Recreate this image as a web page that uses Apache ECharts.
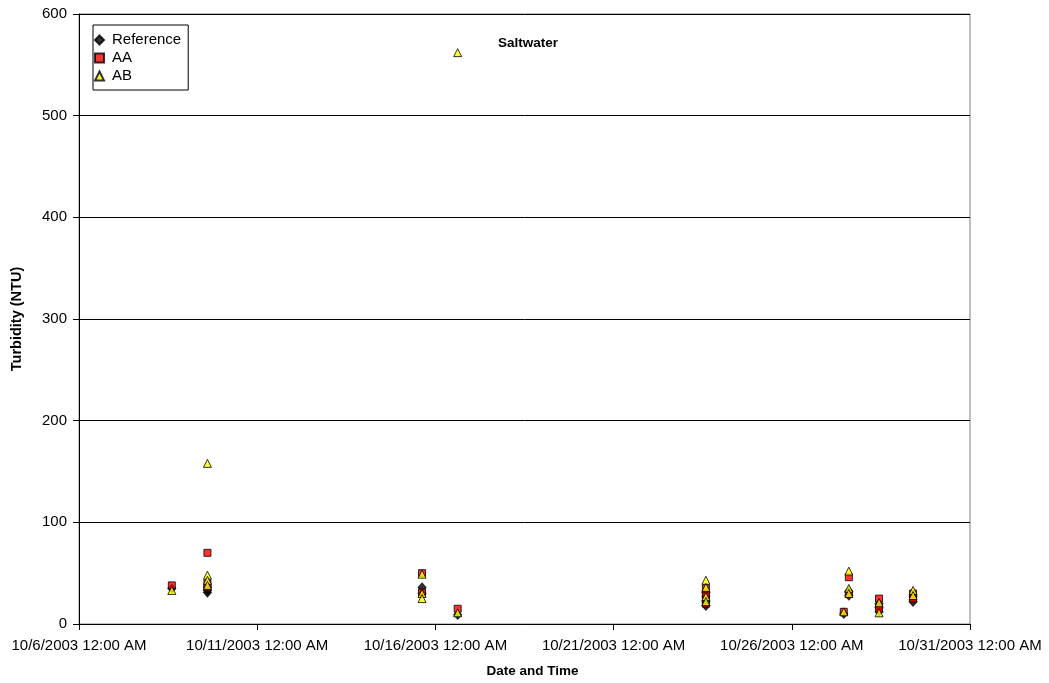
<!DOCTYPE html>
<html><head><meta charset="utf-8">
<script src="https://cdn.jsdelivr.net/npm/echarts@6/dist/echarts.min.js"></script>
<style>html,body{margin:0;padding:0;background:#fff}#c{width:1049px;height:683px}</style>
</head><body><div id="c"></div>
<script>
var startDate = '2003-10-06 00:00';
var xTickLabels = ['10/6/2003 12:00 AM','10/11/2003 12:00 AM','10/16/2003 12:00 AM','10/21/2003 12:00 AM','10/26/2003 12:00 AM','10/31/2003 12:00 AM'];
var yTicks = [0,100,200,300,400,500,600];

var refTimes = ['2003-10-08 14:30','2003-10-09 14:30','2003-10-09 14:30','2003-10-09 14:30','2003-10-15 15:00','2003-10-15 15:00','2003-10-16 15:00','2003-10-23 14:10','2003-10-23 14:10','2003-10-23 14:10','2003-10-23 14:10','2003-10-27 11:00','2003-10-27 14:25','2003-10-27 14:25','2003-10-28 10:45','2003-10-28 10:45','2003-10-28 10:45','2003-10-29 09:40','2003-10-29 09:40'];
var refValues = [35,31,33,36,36,30,9,18,22,27,31,10,28,32,12,16,20,22,27];

var aaTimes = ['2003-10-08 14:30','2003-10-09 14:30','2003-10-09 14:30','2003-10-09 14:30','2003-10-15 15:00','2003-10-15 15:00','2003-10-16 15:00','2003-10-23 14:10','2003-10-23 14:10','2003-10-23 14:10','2003-10-23 14:10','2003-10-27 11:00','2003-10-27 14:25','2003-10-27 14:25','2003-10-28 10:45','2003-10-28 10:45','2003-10-29 09:40','2003-10-29 09:40'];
var aaValues = [38,70,36,40,50,31,15,20,25,30,35,12,46,30,25,15,30,25];

var abTimes = ['2003-10-08 14:30','2003-10-09 14:30','2003-10-09 14:30','2003-10-09 14:30','2003-10-09 14:30','2003-10-15 15:00','2003-10-15 15:00','2003-10-15 15:00','2003-10-16 15:00','2003-10-16 15:00','2003-10-23 14:10','2003-10-23 14:10','2003-10-23 14:10','2003-10-23 14:10','2003-10-27 11:00','2003-10-27 14:25','2003-10-27 14:25','2003-10-27 14:25','2003-10-28 10:45','2003-10-28 10:45','2003-10-29 09:40','2003-10-29 09:40'];
var abValues = [33,158,48,43,38,49,30,25,562,11,43,36,27,22,12,52,35,30,21,11,33,28];

function toDays(s){
  var p = s.split(/[- :]/).map(Number);
  var q = startDate.split(/[- :]/).map(Number);
  return (Date.UTC(p[0],p[1]-1,p[2],p[3],p[4]) - Date.UTC(q[0],q[1]-1,q[2],q[3],q[4]))/86400000;
}
function pairs(t,v){ return t.map(function(s,i){ return [toDays(s), v[i]]; }); }

var chart = echarts.init(document.getElementById('c'), null, {renderer:'canvas'});
var font = 'Liberation Sans, Arial, sans-serif';
chart.setOption({
  animation:false,
  backgroundColor:'#fff',
  textStyle:{fontFamily:font},
  title:{text:'Saltwater', left:493, top:31, textStyle:{fontSize:13.5, fontWeight:'bold', color:'#000', fontFamily:font}},
  legend:{
    left:93, top:25, orient:'vertical', itemGap:2, padding:[7,7,6,1],
    borderColor:'#000', borderWidth:1, backgroundColor:'#fff',
    itemWidth:9, itemHeight:9,
    textStyle:{fontSize:15, color:'#000', fontFamily:font, padding:[0,0,0,3], lineHeight:16},
    data:['Reference','AA','AB']
  },
  grid:{left:79, top:14, width:891, height:610, show:true, borderColor:'#808080', borderWidth:1},
  xAxis:{
    type:'value', min:0, max:25, interval:5,
    name:'Date and Time', nameLocation:'middle', nameGap:40,
    nameTextStyle:{fontSize:13.5, fontWeight:'bold', color:'#000', fontFamily:font, padding:[0,0,0,16]},
    axisLine:{show:true, lineStyle:{color:'#000'}},
    axisTick:{show:true, inside:false, length:6, lineStyle:{color:'#000'}},
    axisLabel:{fontSize:15, color:'#000', margin:14, fontFamily:font, formatter:function(v){ return xTickLabels[Math.round(v/5)] || ''; }},
    splitLine:{show:false}
  },
  yAxis:{
    type:'value', min:0, max:600, interval:100,
    name:'Turbidity (NTU)', nameLocation:'middle', nameGap:55, nameRotate:90,
    nameTextStyle:{fontSize:14.5, fontWeight:'bold', color:'#000', fontFamily:font},
    axisLine:{show:true, lineStyle:{color:'#000'}},
    axisTick:{show:true, inside:false, length:6, lineStyle:{color:'#000'}},
    axisLabel:{fontSize:15, color:'#000', margin:12, fontFamily:font, formatter:function(v){ return yTicks.indexOf(v)>=0 ? String(v) : ''; }},
    splitLine:{show:true, lineStyle:{color:'#000', width:1}}
  },
  series:[
    {name:'Reference', type:'scatter', symbol:'diamond', symbolSize:[8,9], data:pairs(refTimes, refValues),
     itemStyle:{color:'#000', borderColor:'#000', borderWidth:1}},
    {name:'AA', type:'scatter', symbol:'rect', symbolSize:7, data:pairs(aaTimes, aaValues),
     itemStyle:{color:'#FF0000', borderColor:'#000', borderWidth:1}},
    {name:'AB', type:'scatter', symbol:'triangle', symbolSize:[8,8], data:pairs(abTimes, abValues),
     itemStyle:{color:'#FFFF00', borderColor:'#000', borderWidth:1}}
  ]
});
</script></body></html>
